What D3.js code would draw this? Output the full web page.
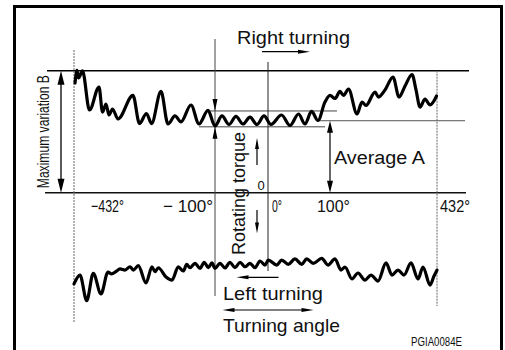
<!DOCTYPE html>
<html><head><meta charset="utf-8">
<script src="https://cdn.jsdelivr.net/npm/d3@7"></script>
<style>html,body{margin:0;padding:0;background:#fff;overflow:hidden}</style>
</head><body>
<svg id="c" width="505" height="350"></svg>
<script>
// ---- data ----
const upperAngle = [-429.6,-424.9,-421.4,-412.0,-395.5,-373.1,-364.9,-356.7,-349.6,-341.3,-328.4,-293.1,-277.8,-261.3,-249.5,-227.2,-210.7,-194.2,-180.1,-156.5,-137.7,-116.5,
  -100,-86.8,-73.6,-60.4,-47.2,-34.0,-20.8,-7.5,
  4.8,21.8,35.5,49.2,59.7,70.2,80.6,91.9,
  100,115.5,131.0,141.9,157.4,183.8,199.3,211.7,239.7,250.5,270.7,295.5,314.2,332.8,354.5,366.9,379.3,394.8,410.4,430.6];
const upperTorque = [89.9,100.2,94.0,99.8,67.8,86.6,66.1,72.7,63.7,68.6,60.4,79.7,56.7,64.9,56.7,83.0,56.3,62.9,58.0,71.9,56.3,67.4,
  54.7,62.9,55.9,62.5,56.3,62.0,55.9,62.9,
  55.9,63.7,55.1,64.5,56.3,66.6,59.2,74.3,
  79.7,77.2,83.0,79.7,85.0,64.5,74.3,71.5,82.5,78.4,84.2,94.8,78.4,87.5,96.9,84.2,70.2,76.8,71.9,79.3];
const lowerAngle = [-432,-417.9,-402.1,-386.6,-368.4,-352.0,-343.7,-331.9,-323.7,-311.9,-300.1,-292.4,-280.6,-262.5,-248.3,-241.3,-233.5,-215.4,-201.3,-186.4,-174.6,-166.6,-158.9,-147.1,-135.3,-125.2,-115.8,-107.1,
  -100,-90.6,-81.1,-71.7,-62.3,-52.8,-43.4,-34.0,-24.5,-15.1,-5.7,
  0.5,14.0,22.1,32.7,43.5,54.4,62.4,73.1,86.6,96.8,
  115.5,134.1,146.5,168.3,186.9,208.6,227.2,249.0,273.8,292.4,311.0,329.6,351.4,373.1,388.6,410.4,422.8,432];
const lowerTorque = [-74.8,-67.5,-88.4,-66.1,-83.0,-65.0,-66.6,-64.2,-62.5,-63.4,-60.7,-63.4,-59.8,-74.0,-60.7,-64.8,-61.5,-69.1,-71.6,-60.7,-64.2,-58.7,-61.5,-57.9,-62.0,-57.0,-61.5,-57.6,
  -62.0,-57.9,-61.7,-57.0,-61.5,-57.0,-60.7,-57.9,-61.5,-56.0,-59.3,
  -55.2,-59.3,-55.2,-58.7,-54.3,-58.7,-54.3,-57.9,-53.8,-59.3,
  -54.3,-63.4,-60.9,-70.7,-65.8,-71.6,-67.5,-72.4,-57.6,-67.5,-63.4,-67.5,-57.6,-70.7,-60.9,-75.7,-68.3,-63.4];
const tickValues = [-432, -100, 0, 100, 432];
const tickLabels = ["\u2212432\u00b0", "\u2212 100\u00b0", "0\u00b0", "100\u00b0", "432\u00b0"];
const maxB = 100, averageA = 59, bandHigh = 67, bandLow = 54;

// ---- layout ----
const svg = d3.select("#c");
const FONT = "'Liberation Sans', Arial, Helvetica, sans-serif";
const x = d3.scaleLinear().domain(tickValues).range([74, 215, 268, 330, 437]);
const y = d3.scaleLinear().domain([0, maxB]).range([192.7, 70.7]);

// frame
svg.append("path").attr("d", "M14.5,350 V6.5 H501.5 V350")
  .attr("fill", "none").attr("stroke", "#000").attr("stroke-width", 3);

function line(x1, y1, x2, y2, opts) {
  opts = opts || {};
  return svg.append("line").attr("x1", x1).attr("y1", y1).attr("x2", x2).attr("y2", y2)
    .attr("stroke", opts.color || "#222").attr("stroke-width", opts.w || 1)
    .attr("stroke-dasharray", opts.dash || null);
}
function head(tx, ty, dir, len, w) {
  let p;
  if (dir === "up") p = [[tx, ty], [tx - w / 2, ty + len], [tx + w / 2, ty + len]];
  if (dir === "down") p = [[tx, ty], [tx - w / 2, ty - len], [tx + w / 2, ty - len]];
  if (dir === "left") p = [[tx, ty], [tx + len, ty - w / 2], [tx + len, ty + w / 2]];
  if (dir === "right") p = [[tx, ty], [tx - len, ty - w / 2], [tx - len, ty + w / 2]];
  svg.append("path").attr("d", "M" + p.join("L") + "Z").attr("fill", "#000");
}
function text(str, tx, ty, size, len, opts) {
  opts = opts || {};
  const t = svg.append("text").attr("x", tx).attr("y", ty).text(str)
    .attr("font-family", opts.family || FONT).attr("font-size", size).attr("fill", "#111")
    .attr("text-anchor", opts.anchor || "start");
  if (len) t.attr("textLength", len).attr("lengthAdjust", "spacingAndGlyphs");
  if (opts.rotate) t.attr("transform", `rotate(-90,${tx},${ty})`);
  return t;
}

// horizontal reference lines
line(47, y(maxB), 469, y(maxB), {color: "#000", w: 1.5});
line(45, y(0), 466, y(0), {color: "#111", w: 1.4});
line(318, y(averageA), 465, y(averageA), {color: "#555", w: 1});
line(207, y(bandHigh), 337, y(bandHigh), {color: "#444", w: 1});
line(199, y(bandLow), 325, y(bandLow), {color: "#444", w: 1});

// vertical reference lines
line(x(-432), 50, x(-432), 323, {color: "#666", w: 1, dash: "2,1"});
line(x(432), y(maxB), x(432), 306, {color: "#666", w: 1, dash: "2,1"});
line(x(-100), 39, x(-100), 296, {color: "#444", w: 1});
line(x(0), 62, x(0), 271, {color: "#222", w: 1});

// curves
const gen = d3.line().x(d => x(d[0])).y(d => y(d[1])).curve(d3.curveMonotoneX);
[[upperAngle, upperTorque], [lowerAngle, lowerTorque]].forEach(([A, T]) => {
  svg.append("path").datum(A.map((a, i) => [a, T[i]]))
    .attr("d", gen).attr("fill", "none").attr("stroke", "#000").attr("stroke-width", 3.2)
    .attr("stroke-linejoin", "round").attr("stroke-linecap", "round");
});

// Maximum variation B arrow
line(61, y(maxB) + 10, 61, y(0) - 10, {color: "#000", w: 1.3});
head(61, y(maxB), "up", 14, 7);
head(61, y(0), "down", 14, 7);
text("Maximum variation B", 49, (y(maxB) + y(0)) / 2, 17, 113, {anchor: "middle", rotate: true});

// Average A arrow
line(x(100), y(averageA) + 8, x(100), y(0) - 8, {color: "#000", w: 1.2});
head(x(100), y(averageA), "up", 12, 6);
head(x(100), y(0), "down", 12, 6);
text("Average A", 334, 164, 18, 91);

// band arrows at -100
head(x(-100), y(bandHigh), "down", 12, 5);
head(x(-100), y(bandLow), "up", 12, 5);

// Right turning
text("Right turning", 237, 44, 19, 113);
line(262, 51.7, 302, 51.7, {color: "#000", w: 1.2});
head(310, 51.7, "right", 12, 4);

// Rotating torque
text("Rotating torque", 245, 193.5, 18, 123, {anchor: "middle", rotate: true});
line(257, 148, 257, 165, {color: "#000", w: 1.2});
head(257, 138, "up", 11, 4);
line(257, 210, 257, 224, {color: "#000", w: 1.2});
head(257, 233.5, "down", 11, 4);
text("0", 261, 190, 13, null, {anchor: "middle"});

// tick labels
const tickOff = [[91, "start", 33], [213, "end", 50], [272, "start", 10], [317, "start", 33], [440, "start", 30]];
tickValues.forEach((v, i) => {
  const o = tickOff[i];
  text(tickLabels[i], o[0], 212, 17, o[2], {anchor: o[1]});
});

// Left turning
line(246, 277.3, 278.5, 277.3, {color: "#000", w: 1.2});
head(236.5, 277.3, "left", 12, 4);
text("Left turning", 223, 300, 19, 100);

// Turning angle
line(232, 310, 305, 310, {color: "#000", w: 1.2});
head(222.5, 310, "left", 12, 4);
head(313.5, 310, "right", 12, 4);
text("Turning angle", 223, 332, 19, 117);

text("PGIA0084E", 411, 346, 12.5, 51);
</script>
</body></html>
